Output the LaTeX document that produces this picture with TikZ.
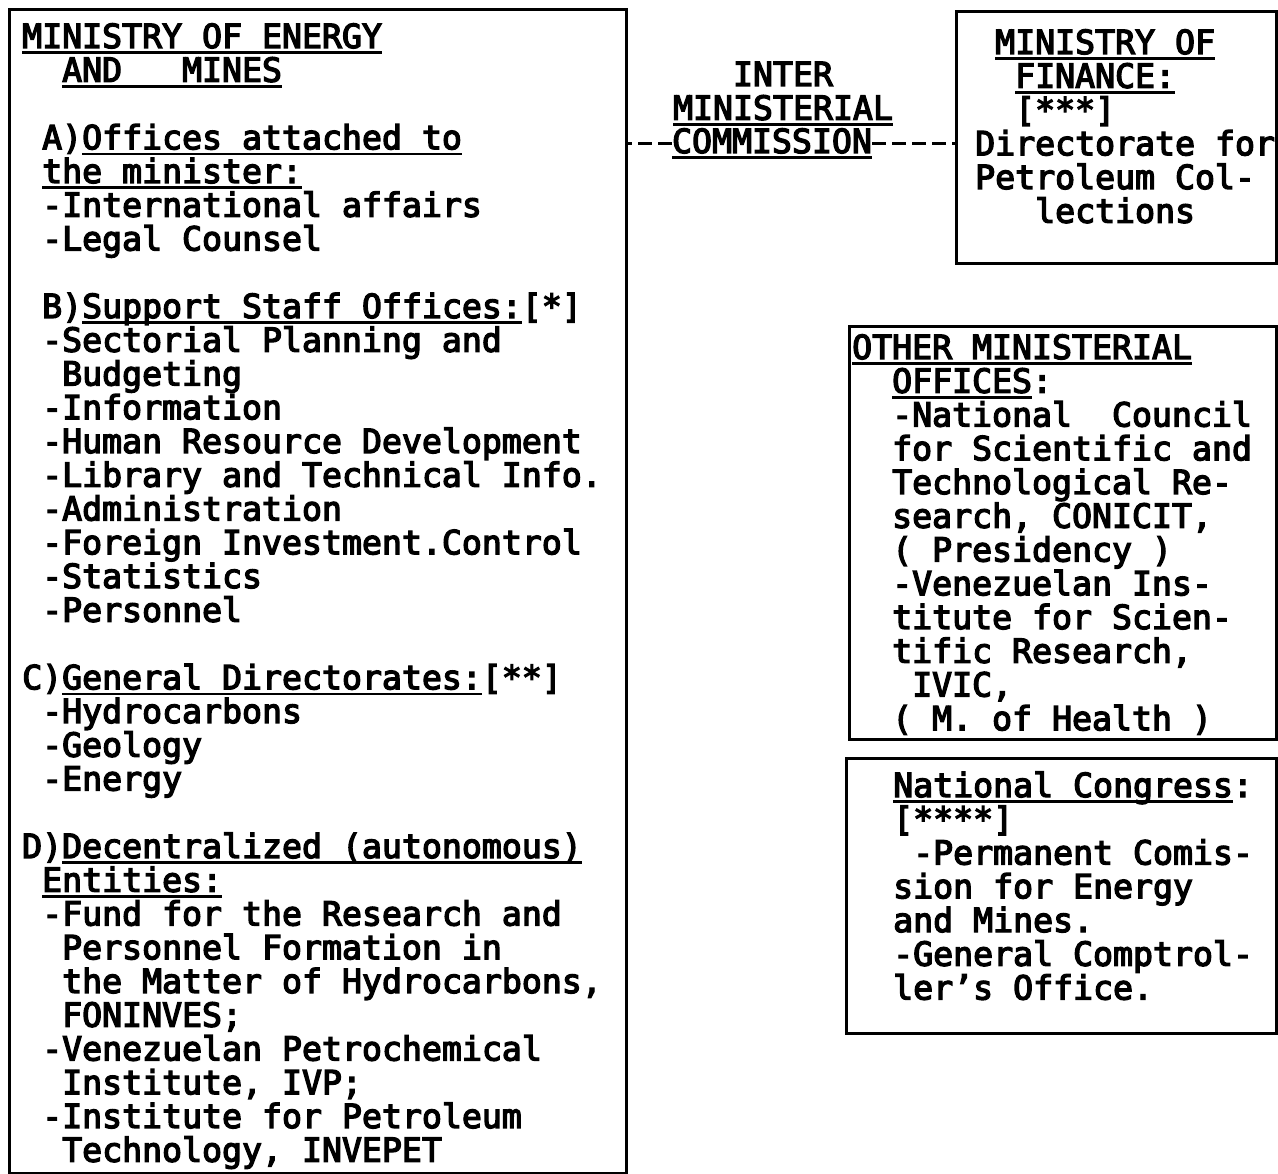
\documentclass[tikz,border=0pt]{standalone}
\usepackage{fontspec}
\setmonofont{DejaVu Sans Mono}[AutoFakeBold=4]
\newcommand\myul[1]{\leavevmode\setbox0=\hbox{#1}\rlap{\rule[-6pt]{\wd0}{2.6pt}}\box0}
\newcommand\ind[1]{\hspace*{\dimexpr#1\fontcharwd\font`0\relax}}
\newcommand\blankline{\\[33.75pt]}
\newcommand\fixspaces{\spaceskip=\fontcharwd\font`0\relax\xspaceskip=\spaceskip}
\tikzset{
  box/.style={draw, line width=2.6pt, inner sep=0pt, anchor=north west},
  prfont/.style={font={\ttfamily\bfseries\fontsize{33.2}{33.75}\selectfont\lineskiplimit=-100pt\frenchspacing},
    execute at begin node=\fixspaces},
  txt/.style={prfont, anchor=base west, inner sep=0pt, text width=#1, align=left},
  conn/.style={line width=2.8pt, dash pattern=on 14pt off 6pt},
}
\begin{document}
\begin{tikzpicture}[x=1pt,y=-1pt]
\fill[white] (0,0) rectangle (1278,1174);
\useasboundingbox (0,0) rectangle (1278,1174);

% boxes
\node[box, minimum width=617pt, minimum height=1164pt] (mem) at (8,8) {};
\node[box, minimum width=320pt, minimum height=252pt] (fin) at (955,10) {};
\node[box, minimum width=427pt, minimum height=413pt] (oth) at (848,325) {};
\node[box, minimum width=430pt, minimum height=275pt] (cong) at (845,757) {};

% ministry of energy and mines
\node[txt=600pt] (memtxt) at (22,48) {%
\myul{MINISTRY OF ENERGY}\\
\ind2\myul{AND~~~MINES}\blankline
\ind1A)\myul{Offices attached to}\\
\ind1\myul{the minister:}\\
\ind1-International affairs\\
\ind1-Legal Counsel\blankline
\ind1B)\myul{Support Staff Offices:}[*]\\
\ind1-Sectorial Planning and\\
\ind2Budgeting\\
\ind1-Information\\
\ind1-Human Resource Development\\
\ind1-Library and Technical Info.\\
\ind1-Administration\\
\ind1-Foreign Investment.Control\\
\ind1-Statistics\\
\ind1-Personnel\blankline
C)\myul{General Directorates:}[**]\\
\ind1-Hydrocarbons\\
\ind1-Geology\\
\ind1-Energy\blankline
D)\myul{Decentralized (autonomous)}\\
\ind1\myul{Entities:}\\
\ind1-Fund for the Research and\\
\ind2Personnel Formation in\\
\ind2the Matter of Hydrocarbons,\\
\ind2FONINVES;\\
\ind1-Venezuelan Petrochemical\\
\ind2Institute, IVP;\\
\ind1-Institute for Petroleum\\
\ind2Technology, INVEPET};

% inter-ministerial commission
\node[prfont, anchor=base, inner sep=0pt, text width=240pt, align=center] (inter) at (783,86) {%
INTER\\
\myul{MINISTERIAL}};
\node[prfont, anchor=base, inner sep=0pt] (comm) at (772,153) {\myul{COMMISSION}};
\draw[conn] (comm.west) -- (comm.west -| mem.east);
\draw[conn] (comm.east) -- (comm.east -| fin.west);

% ministry of finance
\node[txt=300pt] (fintxt) at (975,54) {%
\ind1\myul{MINISTRY OF}\\
\ind2\myul{FINANCE:}\\
\ind2[***]\\
Directorate for\\
Petroleum Col-\\
\ind3lections};

% other ministerial offices
\node[txt=420pt] (othtxt) at (852,359) {%
\myul{OTHER MINISTERIAL}\\
\ind2\myul{OFFICES}:\\
\ind2-National~~Council\\
\ind2for Scientific and\\
\ind2Technological Re-\\
\ind2search, CONICIT,\\
\ind2( Presidency )\\
\ind2-Venezuelan Ins-\\
\ind2titute for Scien-\\
\ind2tific Research,\\
\ind3IVIC,\\
\ind2( M. of Health )};

% national congress
\node[txt=380pt] (congtxt) at (893,797) {%
\myul{National Congress}:\\
{}[****]\\
\ind1-Permanent Comis-\\
sion for Energy\\
and Mines.\\
-General Comptrol-\\
ler’s Office.};
\end{tikzpicture}
\end{document}
